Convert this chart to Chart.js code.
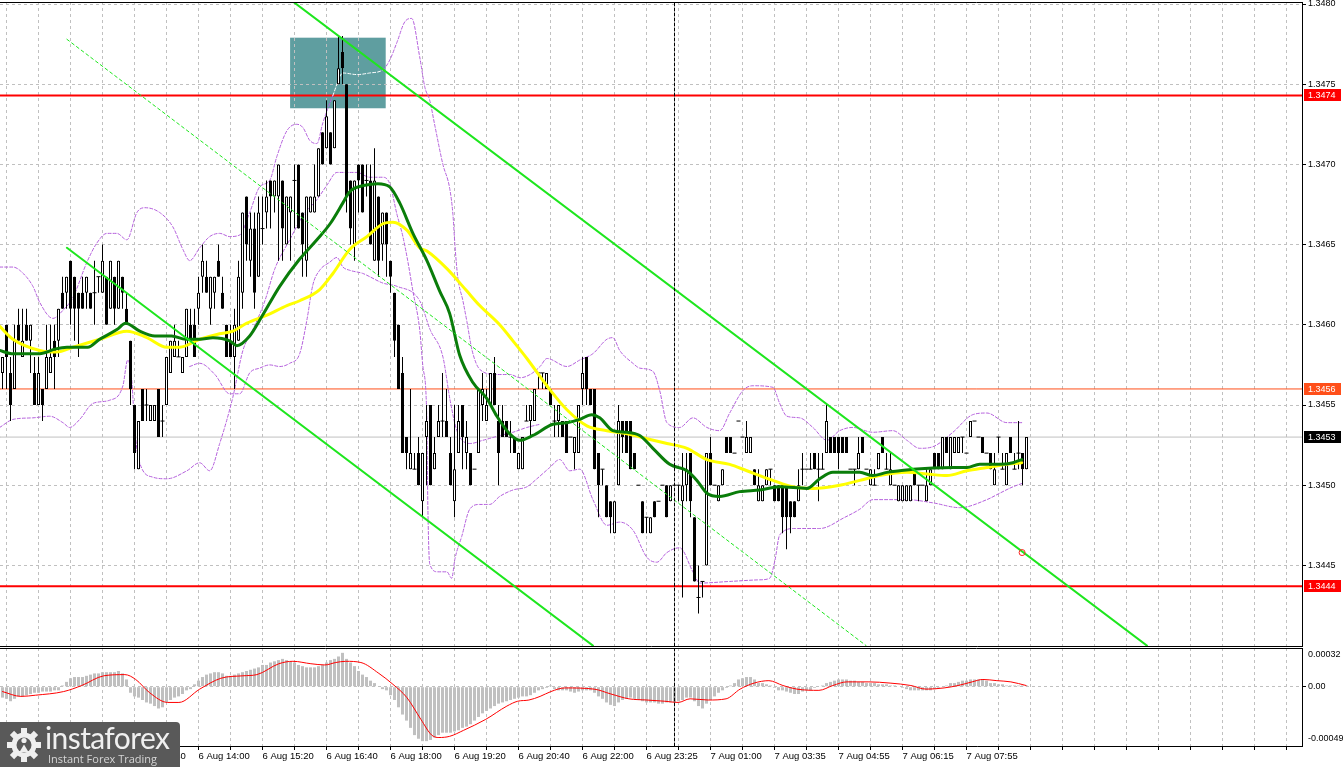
<!DOCTYPE html>
<html>
<head>
<meta charset="utf-8">
<title>GBP/USD M5</title>
<script src="https://cdn.jsdelivr.net/npm/chart.js@4.4.1/dist/chart.umd.min.js"></script>
<style>
  html, body { margin:0; padding:0; background:#ffffff; width:1343px; height:767px; overflow:hidden; }
  .wrap { position:absolute; left:0; width:1343px; }
  #w1 { top:0; height:648px; }
  #w2 { top:648px; height:119px; }
  #logo { position:absolute; left:0; top:722px; width:180px; height:45px; background:#595959; border-top-right-radius:4px; overflow:hidden; }
  #logo .brand { position:absolute; left:45px; top:-3px; font-family:Lato, 'Open Sans', sans-serif; font-weight:400; font-size:30px; color:#f0f0f0; letter-spacing:-0.6px; white-space:nowrap; }
  #logo .tag { position:absolute; left:48px; top:29px; font-family:'Open Sans', sans-serif; font-size:11px; color:#d6d6d6; white-space:nowrap; }
</style>
</head>
<body>
<div class="wrap" id="w1"><canvas id="priceChart" width="1343" height="648"></canvas></div>
<div class="wrap" id="w2"><canvas id="macdChart" width="1343" height="119"></canvas></div>
<div id="logo">
  <svg width="40" height="40" viewBox="0 0 40 40" style="position:absolute;left:4px;top:3px">
    <g fill="#efefef">
      <circle cx="20" cy="20" r="12.5"/>
      <rect x="17" y="3" width="6" height="8"/>
      <rect x="17" y="3" width="6" height="8" transform="rotate(45 20 20)"/>
      <rect x="17" y="3" width="6" height="8" transform="rotate(90 20 20)"/>
      <rect x="17" y="3" width="6" height="8" transform="rotate(135 20 20)"/>
      <rect x="17" y="3" width="6" height="8" transform="rotate(180 20 20)"/>
      <rect x="17" y="3" width="6" height="8" transform="rotate(225 20 20)"/>
      <rect x="17" y="3" width="6" height="8" transform="rotate(270 20 20)"/>
      <rect x="17" y="3" width="6" height="8" transform="rotate(315 20 20)"/>
    </g>
    <circle cx="20" cy="20" r="7.5" fill="#595959"/>
    <circle cx="20" cy="15.5" r="2.6" fill="#efefef"/>
    <path d="M15.5 27 L20 19.5 L24.5 27 Z" fill="#efefef"/>
  </svg>
  <div class="brand">instaforex</div>
  <div class="tag">Instant Forex Trading</div>
</div>
<script>
// ---------------- DATA ----------------
const PRICE_BASE = 1.34, PIP = 0.0001, MACD_UNIT = 0.00001;

// candles (pips above 1.3400), 5-minute bars
const openP = [
57,60,57,56,60,58,60,59,57,55, 56,56,57,59,59,62,62,64,63,62, 62,62,62,62,63,62,63,61,63,61,
63,61,59,55,51,56,55,54,54,56, 54,55,57,58,58,57,58,60,60,61, 63,63,61,62,64,62,60,59,58,59,
62,68,64,66,63,66,67,69,68,68, 69,65,67,69,70,67,64,67,67,68, 72,71,72,71,75,77,75,69,65,70,
70,69,69,64,68,65,67,64,62,60, 57,53,51,51,52,49,53,55,51,53, 54,54,52,49,52,55,52,52,51,52,
55,54,55,57,54,54,54,53,53,51, 51,54,54,54,57,57,56,56,54,54, 54,54,53,52,52,56,58,56,56,52,
51,50,49,47,50,54,54,54,52,50, 49,48,47,49,49,50,50,49,50,50, 49,50,52,48,43,44,45,52,50,49,
50,53,53,52,54,53,52,52,51,49, 49,50,51,50,50,50,50,49,49,49, 51,51,51,52,51,51,52,53,53,53,
53,53,51,51,51,53,51,50,50,51, 53,51,50,50,49,49,49,49,51,50, 50,49,50,52,52,51,53,51,52,52,
53,52,53,54,53,53,52,52,50,53, 51,50,53,51,52,52,51];
const highP = [
58,60,58,60,61,61,61,60,58,58, 56,60,60,60,61,63,63,64,63,62, 63,63,62,64,63,65,63,64,63,64,
63,62,59,55,54,56,56,55,55,56, 55,58,59,60,59,58,61,61,61,63, 65,64,63,63,65,63,60,60,61,64,
67,68,67,67,68,68,69,69,69,70, 69,68,68,70,70,67,68,68,70,71, 72,74,72,74,78,78,75,69,69,70,
70,70,70,71,68,67,67,64,62,60, 58,53,56,52,53,52,55,55,53,55, 57,56,53,55,55,55,54,52,51,56,
57,56,57,58,55,55,54,54,53,52, 53,55,55,56,57,57,57,56,55,55, 54,54,53,53,55,58,58,56,56,52,
51,50,49,49,55,54,54,54,52,50, 49,48,48,49,49,50,50,50,50,50, 52,52,52,48,45,44,52,53,50,50,
51,53,53,52,54,53,54,53,51,51, 50,51,51,50,50,50,50,49,49,51, 52,51,52,52,52,52,55,53,53,53,
53,53,51,51,53,53,51,51,51,52, 53,52,52,50,50,50,50,50,51,50, 50,51,51,52,52,53,53,53,53,53,
53,52,54,54,53,53,52,52,52,53, 52,52,53,52,54,52,53];
const lowP = [
56,56,54,56,59,58,59,57,55,55, 54,56,57,56,58,61,61,60,59,58, 61,61,61,60,62,62,60,61,60,61,
61,60,55,51,51,54,54,54,54,53, 53,55,57,58,58,57,58,59,58,60, 62,62,60,61,63,61,58,58,56,59,
61,64,63,61,63,65,66,66,67,64, 64,65,64,66,66,63,63,67,67,68, 70,71,70,71,75,75,67,65,64,67,
67,68,65,64,63,64,63,62,58,56, 52,51,51,51,50,48,50,50,51,53, 53,53,50,48,52,51,51,50,51,52,
54,54,55,55,50,53,53,52,52,51, 51,54,53,54,56,56,56,55,53,53, 53,52,53,51,52,55,55,55,51,48,
50,48,47,47,50,52,52,51,51,50, 47,47,47,48,49,50,48,49,50,49, 43,49,48,44,42,43,45,50,50,49,
50,52,52,52,54,53,52,52,50,49, 49,50,50,49,49,47,46,47,48,49, 50,51,51,51,49,51,52,52,52,51,
52,52,51,50,51,52,51,50,50,51, 52,51,50,50,49,49,49,49,50,49, 50,49,50,51,51,51,52,51,52,52,
52,52,53,54,53,52,52,51,50,52, 51,50,52,51,51,50,51];
const closeP = [
58,58,55,59,59,59,59,60,55,57, 55,58,58,58,61,61,63,61,61,61, 61,63,61,62,63,64,60,64,61,64,
62,60,56,52,54,54,55,55,55,53, 54,58,59,59,58,58,61,59,58,62, 64,62,63,63,63,61,58,58,60,63,
67,65,66,62,67,66,68,68,69,70, 66,68,68,69,66,65,68,68,68,71, 70,73,70,74,76,76,68,66,69,69,
67,69,65,69,64,67,65,63,59,56, 52,52,52,51,50,52,54,50,52,54, 54,53,50,51,54,53,53,50,51,56,
56,55,57,55,52,53,53,53,52,52, 53,54,55,56,57,57,57,55,54,55, 53,52,53,53,55,57,56,55,51,50,
51,48,48,49,54,53,52,51,51,50, 47,48,48,48,49,50,48,50,50,50, 50,51,49,44,43,44,52,50,50,50,
51,52,52,52,54,53,53,53,50,50, 50,51,51,49,49,48,48,48,48,50, 51,51,51,51,51,51,54,52,52,52,
52,52,51,51,52,52,51,51,50,52, 52,51,51,50,50,50,50,50,50,50, 50,50,51,51,51,53,52,53,53,53,
53,52,54,54,53,52,52,51,51,53, 51,52,52,51,52,51,53];

// moving averages: [candle index, price]
const maGreen = [[-0.7,1.34584],[2.3,1.34582],[9.3,1.34582],[13.3,1.34585],[16.1,1.34586],[21.3,1.34586],[24.3,1.34591],[28.6,1.34597],[30.8,1.34601],[34.3,1.34596],[38.1,1.34593],[42.3,1.34593],[45.8,1.34591],[49.3,1.34591],[52.6,1.34592],[56.8,1.34590],[58.6,1.34587],[61.8,1.34593],[64.8,1.34605],[69.3,1.34624],[74.3,1.34641],[78.6,1.34653],[81.9,1.34663],[85.1,1.34676],[86.8,1.34683],[90.6,1.34687],[93.8,1.34688],[96.8,1.34686],[99.3,1.34676],[102.6,1.34657],[106.1,1.34640],[109.3,1.34621],[111.8,1.34607],[114.3,1.34581],[117.6,1.34564],[121.1,1.34554],[123.6,1.34543],[126.8,1.34532],[129.3,1.34528],[132.6,1.34531],[137.6,1.34538],[141.1,1.34539],[144.3,1.34541],[147.3,1.34544],[149.3,1.34542],[152.6,1.34534],[156.1,1.34533],[159.3,1.34531],[162.6,1.34523],[166.8,1.34513],[171.1,1.34509],[173.6,1.34503],[176.1,1.34495],[179.3,1.34493],[184.3,1.34496],[189.3,1.34497],[194.3,1.34499],[201.1,1.34498],[204.3,1.34504],[207.6,1.34508],[211.1,1.34508],[214.3,1.34508],[217.6,1.34506],[221.1,1.34508],[224.3,1.34509],[227.6,1.34510],[237.6,1.34511],[241.1,1.34511],[244.3,1.34513],[249.3,1.34513],[252.6,1.34514],[254.8,1.34516]];
const maYellow = [[-0.7,1.34599],[2.6,1.34591],[9.3,1.34584],[13.6,1.34583],[17.6,1.34586],[24.3,1.34591],[31.1,1.34596],[36.1,1.34592],[41.1,1.34586],[44.3,1.34586],[49.3,1.34591],[53.6,1.34594],[57.6,1.34596],[61.1,1.34601],[66.1,1.34606],[71.1,1.34612],[74.3,1.34615],[79.3,1.34622],[82.6,1.34632],[86.8,1.34647],[91.1,1.34655],[95.1,1.34663],[97.6,1.34664],[101.1,1.34659],[104.3,1.34648],[106.1,1.34646],[111.1,1.34635],[116.1,1.34621],[119.3,1.34612],[124.3,1.34600],[127.6,1.34590],[131.1,1.34579],[136.1,1.34562],[141.1,1.34547],[146.1,1.34537],[151.1,1.34534],[156.1,1.34532],[161.1,1.34529],[166.1,1.34526],[171.1,1.34523],[176.1,1.34516],[181.8,1.34513],[186.1,1.34509],[192.6,1.34503],[197.6,1.34499],[202.6,1.34498],[209.3,1.34500],[214.3,1.34503],[219.3,1.34506],[226.1,1.34508],[231.1,1.34507],[236.1,1.34506],[241.1,1.34509],[246.1,1.34511],[251.1,1.34513],[254.8,1.34514]];

// envelope / band curves: [candle index, price]
const bandUpper = [[-0.7,1.34636],[2.6,1.34636],[4.3,1.34634],[7.6,1.34624],[9.3,1.34614],[12.6,1.34604],[15.1,1.34609],[17.6,1.34617],[21.1,1.34639],[23.6,1.34651],[26.1,1.34657],[28.6,1.34657],[31.1,1.34653],[33.6,1.34670],[35.6,1.34673],[39.3,1.34670],[42.6,1.34661],[45.1,1.34647],[46.8,1.34640],[49.3,1.34648],[51.8,1.34655],[54.3,1.34657],[56.8,1.34655],[59.3,1.34656],[61.8,1.34670],[64.3,1.34686],[66.8,1.34690],[68.6,1.34705],[71.1,1.34721],[73.6,1.34725],[75.1,1.34723],[76.8,1.34715],[78.6,1.34713],[80.1,1.34726],[82.6,1.34743],[85.1,1.34757],[88.6,1.34756],[91.8,1.34757],[95.1,1.34759],[96.8,1.34765],[98.6,1.34776],[100.6,1.34789],[102.3,1.34791],[104.3,1.34767],[105.6,1.34748],[106.8,1.34740],[108.1,1.34724],[110.1,1.34700],[111.8,1.34685],[112.6,1.34669],[113.1,1.34650],[113.8,1.34630],[115.1,1.34615],[116.1,1.34602],[117.4,1.34584],[119.4,1.34572],[123.6,1.34569],[126.9,1.34569],[129.4,1.34567],[131.9,1.34569],[134.4,1.34574],[136.1,1.34579],[141.1,1.34574],[144.3,1.34578],[147.6,1.34582],[151.1,1.34591],[152.6,1.34592],[154.3,1.34584],[157.6,1.34576],[159.3,1.34573],[162.6,1.34571],[164.3,1.34559],[166.1,1.34539],[169.3,1.34536],[172.6,1.34542],[176.1,1.34536],[179.3,1.34534],[181.8,1.34545],[185.1,1.34559],[187.6,1.34562],[192.6,1.34561],[194.3,1.34551],[196.1,1.34543],[199.3,1.34542],[202.6,1.34536],[206.1,1.34528],[209.3,1.34534],[212.6,1.34536],[217.6,1.34533],[222.6,1.34534],[226.1,1.34528],[229.3,1.34523],[232.6,1.34524],[237.6,1.34533],[242.6,1.34544],[246.1,1.34545],[251.1,1.34539],[254.8,1.34539]];
const bandMiddle = [[46.8,1.34574],[49.3,1.34576],[53.1,1.34569],[56.8,1.34557],[59.3,1.34557],[61.8,1.34570],[64.3,1.34573],[66.8,1.34575],[69.3,1.34574],[71.8,1.34576],[74.3,1.34582],[76.1,1.34603],[77.6,1.34625],[79.3,1.34634],[81.8,1.34639],[83.6,1.34642],[85.1,1.34636],[86.8,1.34634],[90.1,1.34632],[91.8,1.34630],[95.1,1.34626],[98.6,1.34624],[104.3,1.34615],[106.9,1.34597],[110.1,1.34580],[111.9,1.34553],[113.6,1.34534],[116.9,1.34526],[120.1,1.34528],[124.4,1.34531],[127.6,1.34533],[131.1,1.34536],[134.4,1.34538]];
const bandLower = [[-0.7,1.34536],[2.6,1.34541],[7.6,1.34542],[11.8,1.34543],[15.1,1.34539],[16.8,1.34536],[19.3,1.34541],[22.6,1.34551],[26.8,1.34553],[30.1,1.34562],[31.3,1.34578],[32.3,1.34566],[33.1,1.34534],[34.3,1.34514],[37.6,1.34505],[41.1,1.34504],[46.1,1.34509],[49.3,1.34514],[51.8,1.34509],[54.3,1.34526],[57.6,1.34555],[60.1,1.34584],[62.6,1.34597],[65.6,1.34615],[68.1,1.34635],[71.8,1.34653],[75.1,1.34668],[78.6,1.34678],[81.1,1.34687],[83.6,1.34695],[88.6,1.34695],[91.8,1.34692],[95.1,1.34692],[96.8,1.34688],[98.6,1.34669],[100.1,1.34655],[101.3,1.34640],[102.6,1.34621],[104.3,1.34597],[105.1,1.34574],[106.1,1.34540],[106.3,1.34493],[106.8,1.34451],[108.8,1.34446],[111.1,1.34446],[112.3,1.34442],[113.1,1.34454],[114.8,1.34468],[116.8,1.34485],[119.3,1.34488],[121.8,1.34488],[124.3,1.34493],[127.6,1.34497],[131.1,1.34499],[133.6,1.34504],[136.8,1.34511],[139.3,1.34516],[141.8,1.34509],[144.3,1.34510],[147.6,1.34491],[151.1,1.34475],[154.3,1.34477],[157.6,1.34472],[161.1,1.34455],[163.6,1.34452],[166.1,1.34458],[169.3,1.34461],[172.6,1.34446],[174.3,1.34439],[181.8,1.34440],[189.3,1.34441],[191.8,1.34442],[193.1,1.34453],[194.3,1.34469],[198.1,1.34473],[204.3,1.34473],[210.6,1.34480],[214.3,1.34485],[217.6,1.34491],[226.1,1.34491],[232.6,1.34489],[239.3,1.34486],[246.1,1.34491],[249.3,1.34495],[252.6,1.34499],[254.8,1.34501]];

// MACD histogram and signal (units of 0.00001)
const macdHist = [
-9,-10,-12,-10,-8,-8,-7,-6,-5,-5, -4,-4,-4,-3,-3,1,4,7,8,8, 8,9,10,11,11,12,12,12,12,13,
11,6,-5,-8,-9,-11,-13,-14,-16,-18, -17,-13,-11,-9,-8,-6,-3,-2,2,5, 8,10,11,12,12,11,9,9,10,11,
12,13,14,15,16,18,18,20,21,22, 23,22,21,20,18,17,16,16,16,17, 18,20,22,23,25,28,23,20,17,13,
10,8,5,3,0,-2,-3,-7,-11,-17, -23,-28,-34,-40,-43,-45,-45,-44,-42,-40, -38,-38,-38,-37,-36,-34,-33,-31,-28,-25,
-22,-20,-18,-16,-14,-13,-12,-11,-10,-9, -8,-8,-7,-5,-3,-2,-1,1,-2,-3, -3,-3,-4,-5,-4,-3,-3,-3,-5,-8,
-10,-13,-15,-16,-13,-11,-10,-9,-10,-11, -12,-13,-13,-13,-14,-14,-13,-13,-13,-12, -11,-9,-9,-12,-16,-18,-14,-11,-8,-5,
-3,-1,1,3,6,7,8,8,6,3, 3,2,1,-1,-3,-3,-4,-5,-6,-6, -4,-3,-3,-1,0,1,3,4,5,6,
6,6,5,5,4,4,3,3,3,2, 2,2,1,1,0,-1,-2,-3,-3,-3, -3,-3,-3,-2,-1,0,1,3,3,4,
5,5,6,6,6,6,5,3,3,2, 2,1,1,1,1,1,1];
const macdSignal = [[0,-4],[4.6,-8],[8.3,-7],[15.3,-4],[19.8,1],[25.3,9],[30.6,10],[33.3,6],[36.8,-5],[41.3,-13],[44.1,-13],[49.3,-2],[54.6,7],[60.1,9],[63.6,10],[69.1,19],[72.6,21],[77.1,19],[80.6,18],[83.3,20],[85.8,21],[89.6,20],[94.1,11],[97.6,2],[101.1,-9],[104.6,-27],[107.3,-40],[109.1,-42],[111.8,-41],[115.3,-36],[120.8,-27],[126.1,-16],[128.8,-12],[131.6,-11],[134.4,-8],[137.1,-4],[140.6,-1],[147.9,-2],[152.1,-6],[156.6,-10],[161.1,-11],[165.6,-12],[168.9,-13],[171.9,-10],[176.4,-11],[180.9,-10],[184.4,-2],[187.9,3],[191.6,5],[195.1,1],[198.6,-2],[204.1,-3],[207.6,1],[211.1,4],[216.6,4],[221.9,3],[227.1,1],[230.9,-2],[235.4,-1],[238.9,1],[242.4,4],[245.1,6],[248.6,5],[252.1,4],[255.9,1]];

// drawn objects: trend lines [index, price], zone, cursor
const trendUpper = [[72.9,1.34801],[286.1,1.34400]];
const trendLower = [[16.1,1.34648],[147.6,1.34400]];
const trendMid = [[16.1,1.34778],[215.9,1.34400]];
const trendMarker = [254.9,1.34458];
const zoneIdx = [71.9,95.8];
const zonePrice = [1.34735,1.34779];
const cursorIdx = 168;

// levels
const levelResistance = 1.34743, levelSupport = 1.34437, levelAsk = 1.3456, levelBid = 1.3453;
const levelTags = [
  {value:levelResistance, text:'1.3474', bg:'#ff0000', fg:'#ffffff'},
  {value:levelAsk, text:'1.3456', bg:'#ff4f1a', fg:'#ffffff'},
  {value:levelBid, text:'1.3453', bg:'#000000', fg:'#ffffff'},
  {value:levelSupport, text:'1.3444', bg:'#ff0000', fg:'#ffffff'}
];

// axes
const yTickValues = [1.3445,1.3450,1.3455,1.3460,1.3465,1.3470,1.3475,1.3480];
const yTickLabels = ['1.3445','1.3450','1.3455','1.3460','1.3465','1.3470','1.3475','1.3480'];
const macdTickValues = [0.00027,0,-0.000432];
const macdTickLabels = ['0.00032','0.00','-0.00049'];
const gridIdx = [1,9,17,25,33,41,49,57,65,73,81,89,97,105,113,121,129,137,145,153,161,169,177,185,193,201,209,217,225,233,241,249,257,265,273,281,289,297,305,313,321];
const timeLabelIdx = [1,17,33,49,65,81,97,113,129,145,161,177,193,209,225,241];
const timeLabels = ['6 Aug 10:00','6 Aug 11:20','6 Aug 12:40','6 Aug 14:00','6 Aug 15:20','6 Aug 16:40','6 Aug 18:00','6 Aug 19:20','6 Aug 20:40','6 Aug 22:00','6 Aug 23:25','7 Aug 01:00','7 Aug 03:35','7 Aug 04:55','7 Aug 06:15','7 Aug 07:55'];

const X_MIN = -0.625, X_MAX = 324.875;
const Y_MIN = 1.3439975, Y_MAX = 1.3480125;
const MACD_MIN = -0.00049, MACD_MAX = 0.00032;

// ---------------- BUILD ----------------
Chart.defaults.font.family = "'Liberation Sans', Arial, sans-serif";
Chart.defaults.font.size = 9;
Chart.defaults.color = '#000';

const toPrice = v => PRICE_BASE + v * PIP;
const pts = arr => arr.map(p => ({x:p[0], y:p[1]}));
const hline = v => [{x:X_MIN, y:v}, {x:X_MAX, y:v}];
const idx = openP.map((_, i) => i);

const wickData = idx.map(i => ({x:i, y:[toPrice(lowP[i]), toPrice(highP[i])]}));
const bodyData = idx.filter(i => openP[i] !== closeP[i]).map(i => ({
  x:i, y:[toPrice(Math.min(openP[i], closeP[i])), toPrice(Math.max(openP[i], closeP[i]))], up: closeP[i] > openP[i]
}));
const dojiData = idx.filter(i => openP[i] === closeP[i]).map(i => ({x:i, y:toPrice(openP[i])}));

const BAND_COLOR = '#b45fdc';
const TREND_COLOR = '#1ee61e';
const inZone = c => c.p0.parsed.x >= zoneIdx[0] && c.p1.parsed.x <= zoneIdx[1] && c.p0.parsed.y >= zonePrice[0];

const lineBase = {type:'line', pointRadius:0, fill:false, borderCapStyle:'round', borderJoinStyle:'round'};

const zonePlugin = {
  id:'zone',
  beforeDraw(chart) {
    const {ctx, scales:{x, y}} = chart;
    const x0 = x.getPixelForValue(zoneIdx[0]), x1 = x.getPixelForValue(zoneIdx[1]);
    const y0 = y.getPixelForValue(zonePrice[1]), y1 = y.getPixelForValue(zonePrice[0]);
    ctx.save(); ctx.fillStyle = '#5f9ea0'; ctx.fillRect(x0, y0, x1 - x0, y1 - y0); ctx.restore();
  }
};
const tagPlugin = {
  id:'tags',
  afterDraw(chart) {
    const {ctx, scales:{y}, chartArea} = chart;
    ctx.save();
    ctx.strokeStyle = '#000'; ctx.lineWidth = 1;
    ctx.beginPath(); ctx.moveTo(0, chartArea.top + 0.5); ctx.lineTo(chartArea.right, chartArea.top + 0.5); ctx.stroke();
    ctx.font = "9px 'Liberation Sans', Arial, sans-serif";
    ctx.textBaseline = 'middle';
    levelTags.forEach(t => {
      const yy = Math.round(y.getPixelForValue(t.value));
      ctx.fillStyle = t.bg; ctx.fillRect(chartArea.right + 2, yy - 6, 37, 12);
      ctx.fillStyle = t.fg; ctx.fillText(t.text, chartArea.right + 6, yy + 0.5);
    });
    ctx.restore();
  }
};
const topBorderPlugin = {
  id:'topBorder',
  afterDraw(chart) {
    const {ctx, chartArea} = chart;
    ctx.save(); ctx.strokeStyle = '#000'; ctx.lineWidth = 1;
    ctx.beginPath(); ctx.moveTo(0, chartArea.top + 0.5); ctx.lineTo(chartArea.right, chartArea.top + 0.5); ctx.stroke();
    ctx.restore();
  }
};

new Chart(document.getElementById('priceChart'), {
  type:'bar',
  data:{ datasets:[
    {...lineBase, data:hline(levelBid), borderColor:'#c0c0c0', borderWidth:1, order:30},
    {...lineBase, data:hline(levelAsk), borderColor:'#ff4f1a', borderWidth:1, order:29},
    {...lineBase, data:hline(levelResistance), borderColor:'#ff0000', borderWidth:2, order:28},
    {...lineBase, data:hline(levelSupport), borderColor:'#ff0000', borderWidth:2, order:27},
    {...lineBase, data:pts(bandUpper), borderColor:BAND_COLOR, borderWidth:1, borderDash:[3,2], cubicInterpolationMode:'monotone',
      segment:{borderColor: c => inZone(c) ? '#ffffff' : BAND_COLOR}, order:20},
    {...lineBase, data:pts(bandMiddle), borderColor:BAND_COLOR, borderWidth:1, borderDash:[3,2], cubicInterpolationMode:'monotone', order:20},
    {...lineBase, data:pts(bandLower), borderColor:BAND_COLOR, borderWidth:1, borderDash:[3,2], cubicInterpolationMode:'monotone', order:20},
    {type:'bar', data:wickData, backgroundColor:'#000', barThickness:1, grouped:false, inflateAmount:0, borderSkipped:false, borderWidth:0, order:12},
    {type:'bar', data:bodyData, backgroundColor: c => (c.raw && c.raw.up) ? '#ffffff' : '#000000', borderColor:'#000', borderWidth:1,
      barThickness:3, grouped:false, inflateAmount:0, borderSkipped:false, order:11},
    {type:'scatter', data:dojiData, pointStyle:'line', pointRadius:2, borderColor:'#000', borderWidth:1, order:11},
    {...lineBase, data:pts(maYellow), borderColor:'#ffff00', borderWidth:3, cubicInterpolationMode:'monotone', order:8},
    {...lineBase, data:pts(maGreen), borderColor:'#0a7d0a', borderWidth:3, cubicInterpolationMode:'monotone', order:7},
    {...lineBase, data:pts(trendUpper), borderColor:TREND_COLOR, borderWidth:2, order:5},
    {...lineBase, data:pts(trendLower), borderColor:TREND_COLOR, borderWidth:2, order:5},
    {...lineBase, data:pts(trendMid), borderColor:TREND_COLOR, borderWidth:1, borderDash:[3,3], order:5},
    {type:'scatter', data:[{x:trendMarker[0], y:trendMarker[1]}], pointStyle:'circle', pointRadius:3, borderColor:'#ff2020', backgroundColor:'rgba(255,255,255,0)', borderWidth:1, order:4},
    {...lineBase, data:[{x:cursorIdx, y:Y_MIN}, {x:cursorIdx, y:Y_MAX}], borderColor:'#000', borderWidth:1, borderDash:[3,2], order:3}
  ]},
  options:{
    responsive:false, animation:false, devicePixelRatio:1, events:[],
    layout:{autoPadding:false, padding:{top:2, left:0, right:0, bottom:0}},
    plugins:{legend:{display:false}, tooltip:{enabled:false}},
    scales:{
      x:{type:'linear', min:X_MIN, max:X_MAX, offset:false, position:'bottom',
         grid:{color:'#c0c0c0', drawTicks:false, offset:false},
         border:{display:true, color:'#000', width:1, dash:[3,3]},
         ticks:{display:false},
         afterBuildTicks: s => { s.ticks = gridIdx.map(v => ({value:v})); },
         afterFit: s => { s.height = 2; s.paddingLeft = 0; s.paddingRight = 0; }},
      y:{type:'linear', position:'right', min:Y_MIN, max:Y_MAX,
         grid:{color:'#c0c0c0', tickLength:4, tickColor:'#000', tickBorderDash:[]},
         border:{display:true, color:'#000', width:1, dash:[3,3]},
         ticks:{color:'#000', padding:2, font:{size:9}, callback:(v, i) => yTickLabels[i]},
         afterBuildTicks: s => { s.ticks = yTickValues.map(v => ({value:v})); },
         afterFit: s => { s.width = 41; s.paddingTop = 0; s.paddingBottom = 0; }}
    }
  },
  plugins:[zonePlugin, tagPlugin]
});

new Chart(document.getElementById('macdChart'), {
  type:'bar',
  data:{ datasets:[
    {...lineBase, data:[{x:cursorIdx, y:MACD_MIN}, {x:cursorIdx, y:MACD_MAX}], borderColor:'#000', borderWidth:1, borderDash:[3,2], order:0},
    {...lineBase, data:macdSignal.map(p => ({x:p[0], y:p[1] * MACD_UNIT})), borderColor:'#ff0000', borderWidth:1, cubicInterpolationMode:'monotone', order:1},
    {type:'bar', data:macdHist.map((v, i) => ({x:i, y:v * MACD_UNIT})), backgroundColor:'#c0c0c0', barThickness:3, grouped:false, inflateAmount:0, borderWidth:0, order:2}
  ]},
  options:{
    responsive:false, animation:false, devicePixelRatio:1, events:[],
    layout:{autoPadding:false, padding:{top:0, left:0, right:0, bottom:0}},
    plugins:{legend:{display:false}, tooltip:{enabled:false}},
    scales:{
      x:{type:'linear', min:X_MIN, max:X_MAX, offset:false, position:'bottom',
         grid:{color:'#c0c0c0', tickLength:4, tickColor:'#000', tickBorderDash:[], offset:false},
         border:{display:true, color:'#000', width:1, dash:[3,3]},
         ticks:{autoSkip:false, maxRotation:0, minRotation:0, align:'start', padding:1, color:'#000', font:{size:9.5},
           callback: v => { const k = timeLabelIdx.indexOf(v); return k >= 0 ? timeLabels[k] : ''; }},
         afterBuildTicks: s => { s.ticks = gridIdx.map(v => ({value:v})); },
         afterFit: s => { s.height = 21; s.paddingLeft = 0; s.paddingRight = 0; }},
      y:{type:'linear', position:'right', min:MACD_MIN, max:MACD_MAX,
         grid:{color: c => (c.tick && c.tick.value === 0) ? '#c0c0c0' : 'rgba(0,0,0,0)', tickLength:4,
               tickColor: c => (c.tick && c.tick.value === 0) ? '#000' : 'rgba(0,0,0,0)', tickBorderDash:[]},
         border:{display:true, color:'#000', width:1, dash:[3,3]},
         ticks:{color:'#000', padding:2, font:{size:9}, callback:(v, i) => macdTickLabels[i]},
         afterBuildTicks: s => { s.ticks = macdTickValues.map(v => ({value:v})); },
         afterFit: s => { s.width = 41; s.paddingTop = 0; s.paddingBottom = 0; }}
    }
  },
  plugins:[topBorderPlugin]
});
</script>
</body>
</html>
